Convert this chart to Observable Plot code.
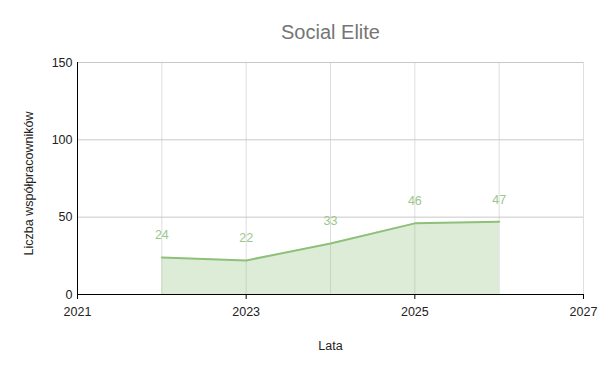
<!DOCTYPE html>
<html>
<head>
<meta charset="utf-8">
<script src="https://cdn.jsdelivr.net/npm/d3@7"></script>
<script src="https://cdn.jsdelivr.net/npm/@observablehq/plot@0.6"></script>
<style>
  html, body { margin: 0; padding: 0; background: #fff; }
  #chart { width: 600px; height: 371px; }
</style>
</head>
<body>
<div id="chart"></div>
<script>
const title = "Social Elite";
const xLabel = "Lata";
const yLabel = "Liczba współpracowników";
const years = [2022, 2023, 2024, 2025, 2026];
const values = [24, 22, 33, 46, 47];
const xTicks = [2021, 2023, 2025, 2027];
const xGrid = [2021, 2022, 2023, 2024, 2025, 2026, 2027];
const yTicks = [0, 50, 100, 150];

const data = years.map((year, i) => ({ year, value: values[i] }));

const lineColor = "#8fc07a";
const chart = Plot.plot({
  width: 600,
  height: 371,
  marginLeft: 77,
  marginRight: 17,
  marginTop: 62,
  marginBottom: 77,
  style: { fontFamily: "'Liberation Sans', Arial, sans-serif", fontSize: "12px", color: "#222", background: "#fff" },
  x: { domain: [2021, 2027] },
  y: { domain: [0, 150] },
  marks: [
    Plot.gridX(xGrid, { stroke: "#dedede", strokeOpacity: 1 }),
    Plot.gridY(yTicks, { stroke: "#c8c8c8", strokeOpacity: 1 }),
    Plot.areaY(data, { x: "year", y: "value", fill: lineColor, fillOpacity: 0.3 }),
    Plot.line(data, { x: "year", y: "value", stroke: lineColor, strokeWidth: 2 }),
    Plot.text(data, { x: "year", y: "value", text: d => String(d.value), dy: -22, fill: "#9cc78a", fontSize: 12.5 }),
    Plot.axisX(xTicks, { tickFormat: "d", tickSize: 5, tickPadding: 8, stroke: "#000", label: null, fontSize: 12.5 }),
    Plot.axisY(yTicks, { tickSize: 0, tickPadding: 5, label: null, fontSize: 12.5 }),
    Plot.ruleY([0], { stroke: "#000", strokeWidth: 1 }),
    Plot.ruleX([2021], { stroke: "#000", strokeWidth: 1 }),
    Plot.text([title], { frameAnchor: "top", dy: -30, lineAnchor: "middle", fontSize: 20, fill: "#757575" }),
    Plot.text([xLabel], { frameAnchor: "bottom", dy: 51, lineAnchor: "middle", fontSize: 12.5, fill: "#222" }),
    Plot.text([yLabel], { frameAnchor: "left", dx: -49, dy: 5, rotate: -90, textAnchor: "middle", lineAnchor: "middle", fontSize: 12.5, fill: "#222" })
  ]
});
document.getElementById("chart").appendChild(chart);
</script>
</body>
</html>
